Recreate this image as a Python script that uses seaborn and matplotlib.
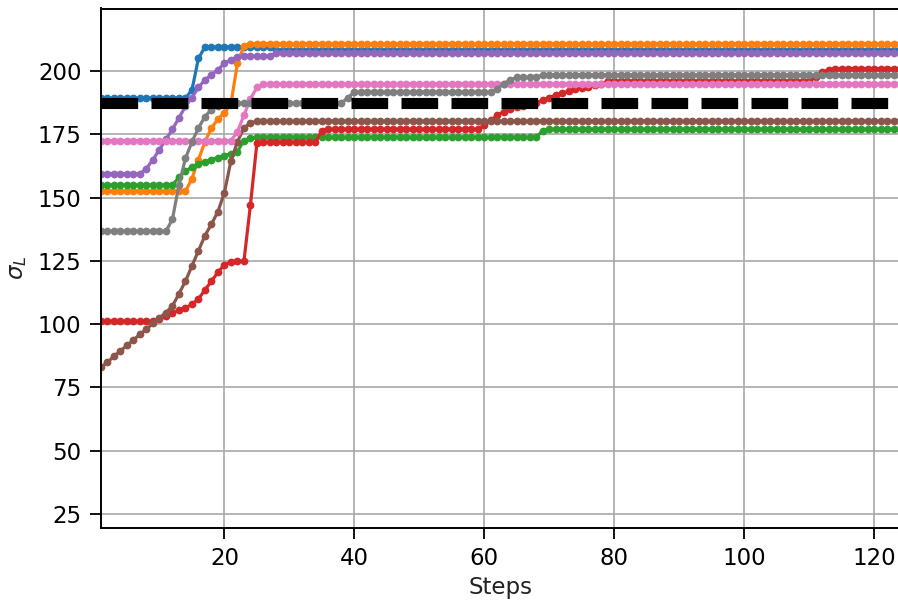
import matplotlib
matplotlib.use("Agg")
import matplotlib.pyplot as plt
import pandas as pd
import seaborn as sns

# Optimisation steps shared by every run
steps = list(range(1, 125))

# sigma_L per step for each run
run_blue = [189.3] * 14 + [192.5, 205.0] + [209.5] * 11 + [208.3] * 97
run_orange = ([152.5] * 14
              + [157.5, 165.0, 172.0, 177.5, 181.0, 183.5, 187.0, 203.0, 210.0]
              + [210.8] * 101)
run_green = ([155.0] * 12
             + [158.0, 160.5, 162.0, 163.2, 164.2, 165.0, 165.8, 166.6, 167.4, 168.2, 172.5, 173.5]
             + [173.8] * 44 + [176.5] + [177.0] * 55)
run_red = ([101.2] * 9
           + [102.0, 103.2, 104.4, 105.5, 106.5, 107.8, 110.0, 113.5, 117.0, 120.5,
              123.5, 124.5, 124.8, 124.8, 147.0]
           + [171.5] + [171.8] * 9 + [176.5] + [177.0] * 24
           + [178.5, 180.5, 182.5, 184.0, 185.0, 185.8, 186.3, 186.8, 187.5, 188.5,
              189.5, 190.5, 191.3, 192.0, 192.8, 193.3, 193.8, 194.5, 195.0]
           + [196.0] * 32 + [197.5, 199.5, 200.5] + [201.0] * 11)
run_purple = ([159.5] * 7
              + [161.5, 165.0, 169.0, 173.0, 177.0, 181.5, 186.0, 189.5, 193.5, 196.5,
                 198.5, 200.5, 203.0, 204.5, 205.5]
              + [206.0] * 5 + [207.3] * 97)
run_brown = ([83.0, 85.0, 87.3, 89.5, 91.6, 93.8, 96.0, 98.1, 100.3, 102.5, 104.6, 107.2,
              112.0, 117.0, 123.0, 129.0, 135.0, 139.5, 144.5, 152.0, 164.5, 172.0, 177.5, 179.5]
             + [180.2] * 100)
run_pink = [172.5] * 21 + [176.0, 182.5, 189.0, 193.5] + [195.0] * 99
run_gray = ([136.7] * 11
            + [141.5, 155.0, 165.5, 172.0, 177.5, 182.0, 184.8, 186.0, 186.8]
            + [187.3] * 18 + [189.5] + [191.7] * 22 + [193.0, 195.0, 196.5]
            + [197.5] * 4 + [198.5] * 56)

runs = [run_blue, run_orange, run_green, run_red,
        run_purple, run_brown, run_pink, run_gray]

# Target level shown as a dashed reference
sigma_target = 187.5

x_ticks = [20, 40, 60, 80, 100, 120]
y_ticks = [25, 50, 75, 100, 125, 150, 175, 200]

frames = []
for idx, values in enumerate(runs):
    frames.append(pd.DataFrame({"Steps": steps, "sigma": values, "run": idx}))
df = pd.concat(frames, ignore_index=True)

sns.set_style("ticks")
plt.rcParams["font.family"] = ["DejaVu Sans"]

fig = plt.figure(figsize=(8.98, 6.07), dpi=100)
ax = fig.add_axes([101 / 898, 79 / 607, 799 / 898, 519.5 / 607])

sns.lineplot(data=df, x="Steps", y="sigma", hue="run",
             palette=sns.color_palette("tab10", len(runs)),
             marker="o", markersize=5.6, markeredgewidth=0, linewidth=2.3,
             estimator=None, errorbar=None, legend=False, ax=ax)

ax.axhline(sigma_target, color="black", linewidth=8, dashes=(3.3, 1.2),
           solid_capstyle="butt", dash_capstyle="butt")

ax.set_xlim(1, 124)
ax.set_ylim(19.5, 224.7)
ax.set_xticks(x_ticks)
ax.set_yticks(y_ticks)
ax.grid(True, color="#a8a8a8", linewidth=1.2)

for side in ("left", "bottom", "top", "right"):
    ax.spines[side].set_color("black")
    ax.spines[side].set_linewidth(1.4)

ax.tick_params(axis="both", colors="black", labelsize=16.5,
               length=8, width=1.3, pad=6)
ax.set_xlabel("Steps", fontsize=16.5, color="#222222", labelpad=4)
ax.set_ylabel(r"$\sigma_L$", fontsize=16.5, color="#222222", labelpad=6)

fig.savefig("out.png", dpi=100)
